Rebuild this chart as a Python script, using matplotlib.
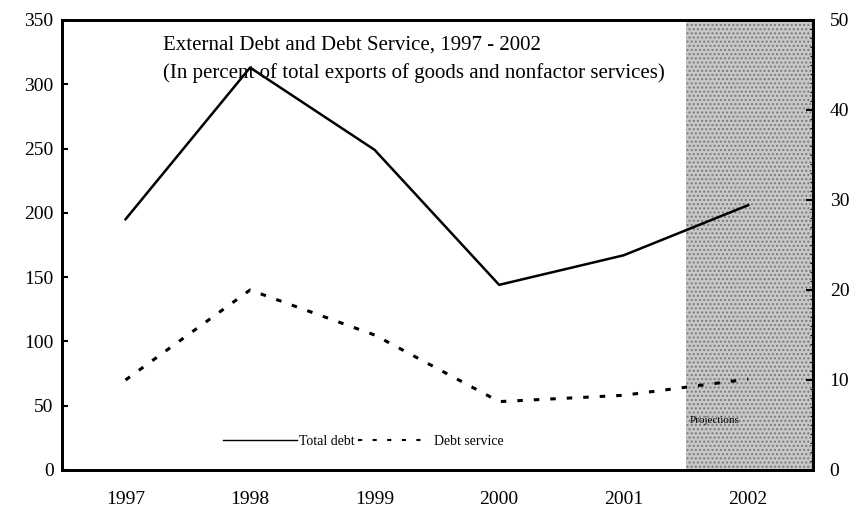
import matplotlib
matplotlib.use("Agg")
import matplotlib.pyplot as plt
from matplotlib.ticker import MultipleLocator

years = [1997, 1998, 1999, 2000, 2001, 2002]
total_debt = [195, 313, 249, 144, 167, 206]
debt_service = [10.0, 20.0, 15.0, 7.6, 8.3, 10.1]
left_ticks = [0, 50, 100, 150, 200, 250, 300, 350]
right_ticks = [0, 10, 20, 30, 40, 50]

plt.rcParams['font.family'] = ['Liberation Serif', 'DejaVu Serif']

fig = plt.figure(figsize=(8.52, 5.13), dpi=100)
ax = fig.add_axes([62/852, 1-470/513, (813-62)/852, (470-20)/513])
ax2 = ax.twinx()

ax.set_xlim(1996.49, 2002.52)
ax.set_ylim(0, 350)
ax2.set_ylim(0, 50)

ax.axvspan(2001.5, 2002.52, facecolor='#c8c8c8', edgecolor='#7a7a7a', hatch='....', linewidth=0, zorder=0)

l1, = ax.plot(years, total_debt, color='black', linewidth=1.8, label='Total debt', zorder=3)
l2, = ax2.plot(years, debt_service, color='black', linewidth=2.2, linestyle=(0, (1.8, 3.6)), label='Debt service', zorder=3)

ax.set_xticks(years)
ax.set_xticklabels([str(y) for y in years])
ax.set_yticks(left_ticks)
ax2.set_yticks(right_ticks)
ax2.yaxis.set_minor_locator(MultipleLocator(1))

ax.tick_params(axis='x', length=0, pad=15, labelsize=14)
ax.tick_params(axis='y', direction='in', length=4, width=1.5, pad=6, labelsize=14)
ax2.tick_params(axis='y', which='major', direction='in', length=5, width=1.5, pad=12, labelsize=14)
ax2.tick_params(axis='y', which='minor', direction='in', length=2, width=0.8)

for a in (ax, ax2):
    for s in a.spines.values():
        s.set_linewidth(2)
        s.set_color('black')

ax.text(0.1345, 0.944, 'External Debt and Debt Service, 1997 - 2002', transform=ax.transAxes,
        fontsize=15, va='center', ha='left')
ax.text(0.1345, 0.882, '(In percent of total exports of goods and nonfactor services)', transform=ax.transAxes,
        fontsize=15, va='center', ha='left')

ax.text(2001.53, 38.5, 'Projections', fontsize=8, va='center', ha='left')

leg_l1, = ax.plot([], [], color='black', linewidth=1.0)
leg_l2, = ax.plot([], [], color='black', linewidth=1.5, linestyle=(0, (2, 5)))
leg = ax.legend([leg_l1, leg_l2], ['Total debt', 'Debt service'], loc='center',
                bbox_to_anchor=(0.401, 0.064), ncol=2, frameon=False, fontsize=10,
                handlelength=5.3, handletextpad=0.15, columnspacing=0.25)

fig.savefig('out.png', dpi=100)
